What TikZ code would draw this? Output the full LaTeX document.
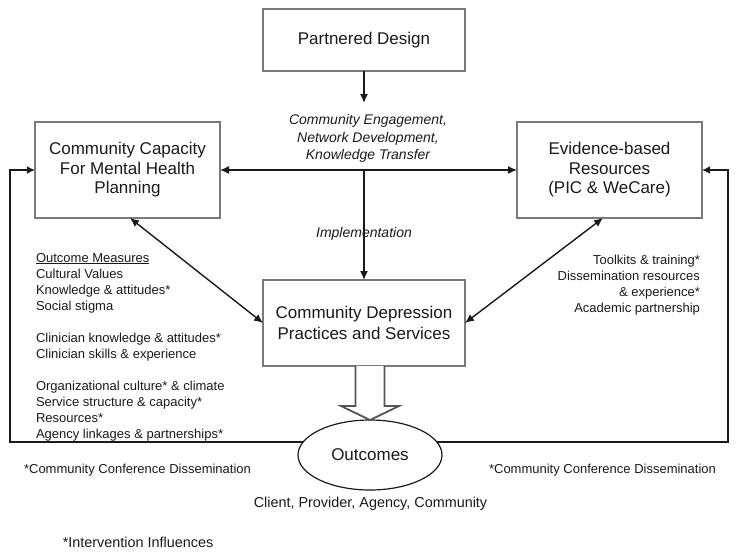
\documentclass[tikz,border=0pt]{standalone}
\usepackage{fontspec}
\setmainfont{Liberation Sans}
\usetikzlibrary{arrows.meta,shapes.geometric,calc}
\definecolor{boxgray}{HTML}{7A7A7A}
\definecolor{ink}{HTML}{1A1A1A}
\definecolor{hollowgray}{HTML}{555555}
\begin{document}
\begin{tikzpicture}[x=1pt,y=-1pt,
  every node/.style={outer sep=0pt},
  box/.style={draw=boxgray, line width=1.8pt, fill=white, inner sep=0pt, align=center,
    font=\fontsize{17}{19.5}\selectfont, text=ink},
  conn/.style={line width=1.4pt, draw=ink, -{Latex[length=9pt,width=8pt]}},
  biconn/.style={line width=1.4pt, draw=ink, {Latex[length=9pt,width=8pt]}-{Latex[length=9pt,width=8pt]}},
  fb/.style={line width=2.3pt, draw=ink, -{Latex[length=8pt,width=8pt]}},
  small/.style={font=\fontsize{13}{16}\selectfont, text=ink, inner sep=0pt},
  mid/.style={font=\fontsize{14.4}{17}\selectfont, text=ink, inner sep=0pt},
  ital/.style={font=\itshape\fontsize{14}{17.5}\selectfont, text=ink, inner sep=0pt, align=center},
  hollow/.style={draw=hollowgray, line width=1.8pt, fill=white, line join=miter}
]
\useasboundingbox (0,0) rectangle (738,555);

% boxes
\node[box, minimum width=202, minimum height=62] (pd) at (364,40) {Partnered Design};
\node[box, minimum width=185, minimum height=96] (cc) at (127.5,170) {Community Capacity\\For Mental Health\\Planning};
\node[box, minimum width=185, minimum height=96] (eb) at (609.5,170) {Evidence-based\\Resources\\(PIC \& WeCare)};
\node[box, minimum width=202, minimum height=86, font=\fontsize{17}{20.5}\selectfont] (cds) at (364,323) {Community Depression\\Practices and Services};

% labels
\node[ital] (ce) at (368,138.5) {Community Engagement,\\Network Development,\\Knowledge Transfer};
\node[ital] (impl) at (364,234) {Implementation};

\node[small, align=left, anchor=north west] (om) at (36,253) {\underline{Outcome Measures}\\
Cultural Values\\
Knowledge \& attitudes*\\
Social stigma\\[16pt]
Clinician knowledge \& attitudes*\\
Clinician skills \& experience\\[16pt]
Organizational culture* \& climate\\
Service structure \& capacity*\\
Resources*\\
Agency linkages \& partnerships*};

\node[small, align=right, anchor=north east] (tk) at (700,255.5) {Toolkits \& training*\\
Dissemination resources\\
\& experience*\\
Academic partnership};

% connectors
\coordinate (pdend) at (364,103);
\draw[conn] (pd.south) -- (pdend);
\draw[biconn] (cc.east) -- (eb.west);
\draw[conn] (cc.east -| cds.north) -- (cds.north);
\draw[biconn] ([xshift=2.5pt]cc.south) -- (cds.west);
\draw[biconn] ([xshift=-6.5pt]eb.south) -- (cds.east);

% outcomes ellipse
\node[ellipse, draw=ink, line width=1.2pt, fill=white, minimum width=144, minimum height=70,
  inner sep=0pt, font=\fontsize{17}{19.5}\selectfont, text=ink] (out) at (370,455) {Outcomes};

% feedback loops
\coordinate (fl) at (10,0);
\coordinate (fr) at (728,0);
\draw[fb] (out.169) -| (fl |- cc.west) -- (cc.west);
\draw[fb] (out.11) -| (fr |- eb.east) -- (eb.east);

% hollow arrow
\coordinate (ha) at (cds.south -| out.north);
\draw[hollow] ($(ha)+(-14.5,0)$) -- ($(out.north)+(-14.5,-14)$) -- ($(out.north)+(-29,-14)$)
  -- (out.north) -- ($(out.north)+(29,-14)$) -- ($(out.north)+(14.5,-14)$) -- ($(ha)+(14.5,0)$);

% bottom texts
\node[small] (lcd) at (137.5,470) {*Community Conference Dissemination};
\node[small] (rcd) at (602.5,470) {*Community Conference Dissemination};
\node[mid] (cpac) at (370.5,504) {Client, Provider, Agency, Community};
\node[mid] (ii) at (138,542) {*Intervention Influences};
\end{tikzpicture}
\end{document}
